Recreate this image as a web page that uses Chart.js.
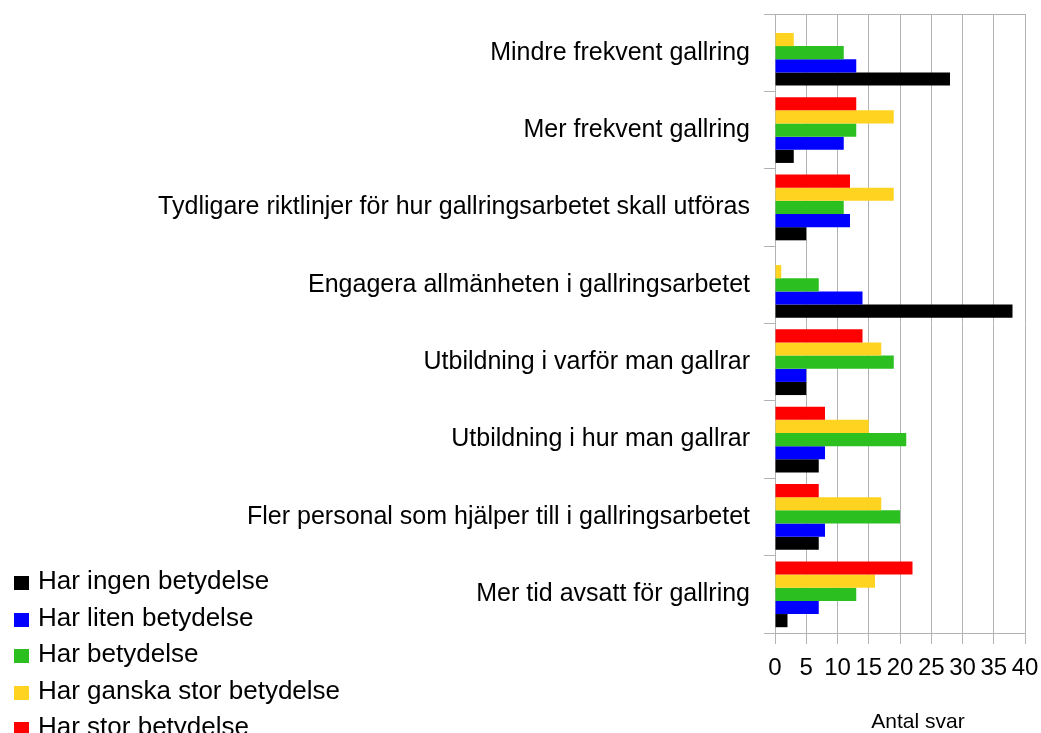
<!DOCTYPE html>
<html>
<head>
<meta charset="utf-8">
<script src="https://cdn.jsdelivr.net/npm/chart.js@4"></script>
<style>
  body { margin: 0; background: #fff; }
  #wrap { position: relative; width: 1041px; height: 733px; overflow: hidden; }
  #legend { position: absolute; left: 14px; top: 562px; font-family: 'Liberation Sans', Arial, sans-serif; font-size: 26px; color: #000; }
  #legend div { height: 36.5px; line-height: 36.5px; white-space: nowrap; }
  #legend span { display: inline-block; width: 15px; height: 14px; margin-right: 9px; vertical-align: -1px; }
</style>
</head>
<body>
<div id="wrap">
  <canvas id="chart" width="1041" height="733"></canvas>
  <div id="legend"></div>
</div>
<script>
var categories = [
    'Mindre frekvent gallring',
    'Mer frekvent gallring',
    'Tydligare riktlinjer för hur gallringsarbetet skall utföras',
    'Engagera allmänheten i gallringsarbetet',
    'Utbildning i varför man gallrar',
    'Utbildning i hur man gallrar',
    'Fler personal som hjälper till i gallringsarbetet',
    'Mer tid avsatt för gallring'
];

var ingenBetydelse = [28, 3, 5, 38, 5, 7, 7, 2];
var litenBetydelse = [13, 11, 12, 14, 5, 8, 8, 7];
var harBetydelse = [11, 13, 11, 7, 19, 21, 20, 13];
var ganskaStorBetydelse = [3, 19, 19, 1, 17, 15, 17, 16];
var storBetydelse = [0, 13, 12, 0, 14, 8, 7, 22];

var xTicks = [0, 5, 10, 15, 20, 25, 30, 35, 40];
var axisTitle = 'Antal svar';

// legend order (as in the original), bars are drawn in the reverse order
var series = [
    { label: 'Har ingen betydelse', data: ingenBetydelse, color: '#000000' },
    { label: 'Har liten betydelse', data: litenBetydelse, color: '#0000ff' },
    { label: 'Har betydelse', data: harBetydelse, color: '#2bbf20' },
    { label: 'Har ganska stor betydelse', data: ganskaStorBetydelse, color: '#ffd320' },
    { label: 'Har stor betydelse', data: storBetydelse, color: '#ff0000' }
];

var font = "'Liberation Sans', Arial, sans-serif";
var gridColor = '#b3b3b3';

var datasets = series.slice().reverse().map(function (s) {
    return {
        label: s.label,
        data: s.data,
        backgroundColor: s.color,
        borderWidth: 0,
        categoryPercentage: 0.85,
        barPercentage: 1.0
    };
});

var legend = document.getElementById('legend');
series.forEach(function (s) {
    var row = document.createElement('div');
    var box = document.createElement('span');
    box.style.background = s.color;
    row.appendChild(box);
    row.appendChild(document.createTextNode(s.label));
    legend.appendChild(row);
});

// top border of the plot area + x axis title
var frame = {
    id: 'frame',
    afterDraw: function (chart) {
        var ctx = chart.ctx;
        var a = chart.chartArea;
        ctx.save();
        ctx.strokeStyle = gridColor;
        ctx.lineWidth = 1;
        ctx.beginPath();
        ctx.moveTo(a.left - 11, a.top + 0.5);
        ctx.lineTo(a.right, a.top + 0.5);
        ctx.stroke();
        ctx.fillStyle = '#000';
        ctx.font = '21px ' + font;
        ctx.textAlign = 'center';
        ctx.textBaseline = 'alphabetic';
        ctx.fillText(axisTitle, 918, 728);
        ctx.restore();
    }
};

new Chart(document.getElementById('chart'), {
    type: 'bar',
    data: { labels: categories, datasets: datasets },
    plugins: [frame],
    options: {
        indexAxis: 'y',
        responsive: false,
        animation: false,
        layout: { padding: { top: 14, right: 16, bottom: 0, left: 0 } },
        plugins: {
            legend: { display: false },
            tooltip: { enabled: false }
        },
        scales: {
            x: {
                min: 0,
                max: 40,
                afterFit: function (s) {
                    s.height = 100;
                    s.paddingLeft = 0;
                    s.paddingRight = 0;
                },
                afterBuildTicks: function (s) {
                    s.ticks = xTicks.map(function (v) { return { value: v }; });
                },
                grid: { color: gridColor, tickLength: 11, lineWidth: 1 },
                border: { display: true, color: gridColor },
                ticks: {
                    autoSkip: false,
                    maxRotation: 0,
                    minRotation: 0,
                    padding: 10,
                    color: '#000',
                    font: { family: font, size: 24 }
                }
            },
            y: {
                afterFit: function (s) {
                    s.width = 775;
                    s.paddingTop = 0;
                    s.paddingBottom = 0;
                },
                grid: { drawOnChartArea: false, color: gridColor, tickLength: 11, offset: true },
                border: { display: true, color: gridColor },
                ticks: {
                    padding: 14,
                    color: '#000',
                    font: { family: font, size: 25 }
                }
            }
        }
    }
});
</script>
</body>
</html>
